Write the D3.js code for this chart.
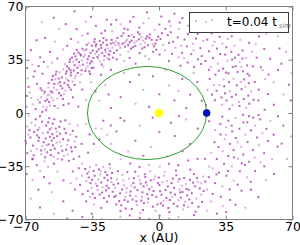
<!DOCTYPE html>
<html><head><meta charset="utf-8">
<script src="https://cdn.jsdelivr.net/npm/d3@7"></script>
<style>body{margin:0;background:#fff}svg{display:block}</style>
</head><body><svg id="c" width="300" height="245"></svg>
<script>
const tickValues=[-70,-35,0,35,70];
const xLabel="x (AU)";
const legendLabel="t=0.04 t";
const legendSub="sim";
const starPos=[[0,0]];
const planetPos=[[25,0]];
const orbitCenter=[-6.25,0];
const orbitAxes=[31.25,30.6];
const ringNW=[[-31.4,38.2],[-44.7,27.9],[-25.3,45.6],[-52.8,19.4],[-38.1,41.7],[-57.6,7.3],[-27.9,40.1],[-48.2,30.6],[-35.5,34.2],[-60.3,12.8],[-41.9,33.5],[-23.6,39.4],[-54.4,22.1],[-46.3,24.7],[-33.2,43.9],[-58.9,3.6],[-29.4,46.3],[-50.7,16.2],[-37.3,30.8],[-62.5,6.9],[-43.8,37.2],[-26.7,42.4],[-55.9,13.5],[-40.6,28.1],[-31.8,35.7],[-47.5,21.3],[-35.9,39.6],[-52.1,26.8],[-24.8,48.1],[-61.2,0.7],[-39.4,36.9],[-49.6,19.8],[-28.6,37.5],[-56.3,10.1],[-44.2,31.4],[-33.9,46.8],[-53.7,15.2],[-42.5,26.3],[-30.2,42.8],[-58.1,16.7],[-36.8,37.3],[-46.9,33.6],[-25.9,37.9],[-51.4,11.6],[-40.1,42.2],[-57.2,4.8],[-32.6,40.4],[-48.8,25.9],[-37.7,33.1],[-54.9,19.1],[-27.3,44.7],[-44.1,22.9],[-59.6,7.9],[-34.4,36.2],[-50.2,28.7],[-41.3,38.5],[-23.9,46.2],[-55.4,8.4],[-38.6,27.6],[-46.4,28.2],[-30.8,33.9],[-52.6,22.7],[-35.1,44.3],[-61.8,10.4],[-43.3,35.1],[-28.2,41.6],[-49.1,14.7],[-39.9,31.8],[-56.7,14.3],[-33.5,38.9],[-47.8,18.4],[-26.1,35.2],[-53.3,9.6],[-42.8,29.7],[-31.1,47.4],[-58.4,11.5],[-36.2,32.5],[-45.6,36.4],[-24.4,42.9],[-51.9,20.3],[-37.9,44.8],[-60.7,4.2],[-29.8,39.3],[-48.4,27.4],[-40.7,25.2],[-54.2,25.3],[-34.7,41.1],[-44.9,33.8],[-27.6,47.9],[-57.9,19.6],[-38.8,38.3],[-50.9,23.4],[-32.3,36.8],[-63.4,8.6],[-46.1,26.6],[-25.6,40.7],[-55.1,16.6],[-42.2,39.7],[-35.3,29.6],[-49.3,32.1],[-30.5,44.6],[-59.2,1.9],[-43.6,24.5],[-52.4,13.1],[-37.4,35.4],[-28.9,34.7],[-47.2,29.3],[-56.1,21.8],[-40.4,34.6],[-33.7,48.5],[-61.5,14.9],[-45.3,20.6],[-26.4,38.6],[-53.8,27.2],[-39.2,40.9],[-50.4,9.2],[-31.6,41.9],[-57.4,12.2],[-44.5,39.1],[-36.5,27.3],[-48.6,22.6],[-24.2,36.4],[-54.7,4.6],[-41.6,31.1],[-29.1,49.2],[-62.1,16.3],[-34.9,33.3],[-46.7,35.2],[-51.6,17.9],[-38.3,29.4],[-59.9,14.1],[-43.1,41.5],[-27.1,36.1],[-55.7,24.3],[-32.9,45.2],[-49.8,12.4],[-40.9,37.8],[-58.6,8.9],[-36.9,46.1],[-47.1,16.9],[-30.1,31.9],[-53.1,3.2],
[-44.3,66.8],[-55.2,62.6],[-61.4,59.7],[-33.1,57.3],[-28.3,54.1],[-24.6,53.7],[-64.2,47.8],[-59.7,49.3],[-54.6,46.9],[-46.2,48.7],[-37.4,52.2],[-50.3,41.8],[-57.1,40.2],[-62.3,36.6],[-66.4,31.7],[-53.3,35.8],[-48.1,44.2],[-42.4,46.3],[-30.2,52.4],[-25.1,58.2],[-38.4,60.1],[-67.2,41.3],[-69.1,29.6],[-58.3,30.4],[-43.2,55.1],[-27.4,61.3],[-52.3,55.2],[-65.8,23.9],[-68.4,17.2],[-66.9,9.8],[-64.7,2.6],[-69.6,4.1],[-67.8,13.4],[-63.9,19.2],[-65.2,27.4],[-68.9,22.8],[-61.1,25.8],[-63.1,30.9],[-66.2,5.7],[-69.3,11.2],[-60.4,33.6],[-56.2,33.1],[-35.7,63.2],[-48.9,58.4],[-40.3,50.9],
[-45.1,10.3],[-40.2,15.4],[-35.6,20.2],[-30.4,25.1],[-42.3,4.2],[-38.2,8.4],[-47.4,6.1],[-33.3,14.2],[-28.1,18.3],[-25.2,28.4],[-36.1,25.7],[-41.4,20.1],[-46.2,15.3],[-50.1,5.2],[-31.3,8.1],[-26.4,12.2],[-44.2,18.4],[-29.2,30.6],[-34.5,29.8]];
const ringN=[[-21.3,45.8],[-16.8,48.2],[-12.4,44.1],[-19.6,50.7],[-8.3,47.6],[-14.7,42.3],[-5.1,49.4],[-22.6,47.1],[-10.2,51.8],[-17.9,43.6],[-3.4,45.3],[-13.1,49.9],[-7.6,43.2],[-20.2,42.8],[-1.2,47.9],[-15.4,46.4],[-9.7,45.1],[-18.6,52.4],[-4.8,51.6],[-11.8,47.3],[-22.1,41.2],[-6.9,48.9],[-14.1,51.2],[-2.6,43.8],[-19.1,45.6],[-9.2,49.8],[-16.2,44.7],[-0.4,50.2],[-12.9,46.2],[-21.8,49.3],[-5.7,44.6],[-17.3,47.1],[-8.8,42.4],[-11.1,53.1],[-20.7,44.3],[-3.9,48.1],[-15.9,50.6],[-7.2,46.3],[-13.6,43.2],[-1.9,45.6],[-18.2,46.2],[-10.6,48.4],[-6.3,50.4],[-22.9,44.7],[-14.4,47.6],[0.8,48.6],[2.3,44.7],[4.6,51.2],[7.4,46.8],[3.1,41.3],[9.8,49.7],[6.2,53.1],[11.7,44.2],[1.6,52.4],[13.4,48.3],[8.6,42.9],[15.2,51.8],[5.3,46.1],[17.8,45.4],[12.1,39.6],[19.4,48.9],[10.4,55.2],[21.7,42.6],[14.6,43.8],[23.2,47.3],[16.9,38.7],[20.3,52.1],[18.1,41.2],[22.4,37.4],[6.8,38.9],
[-20.1,58.3],[-15.2,60.1],[-10.3,56.2],[-5.4,62.3],[0.2,58.1],[5.4,60.2],[15.3,57.4],[20.2,62.1],[-18.1,55.4],[-8.2,59.1],[3.3,55.3],[12.2,62.4],[18.3,54.6],[-13.4,63.2],[8.1,65.3],[-2.3,54.7],[22.3,56.4],[-22.4,61.2],[6.1,57.3],[-6.3,66.1],[1.2,63.4],[17.1,60.2],[-16.4,54.9],[10.9,59.4],
[-20.3,38.1],[-15.4,36.2],[-10.1,39.3],[-5.2,35.4],[0.3,38.4],[5.2,34.1],[10.3,36.6],[15.1,33.2],[20.4,35.2],[-18.2,34.1],[-12.3,32.4],[-3.1,40.2],[13.2,36.1],[18.4,30.3],[22.1,32.2],[-7.3,37.4],[-22.2,35.3],[11.3,31.1],[-16.1,40.4],[-1.4,41.6],
[-15.2,20.3],[-8.4,15.2],[-20.1,10.4],[-3.2,24.1],[5.3,18.2],[12.2,22.4],[8.1,8.3],[-12.3,6.1],[0.2,12.3],[16.4,12.1],[-18.3,26.2],[20.1,20.3],[-5.2,4.1],[3.4,28.2],[14.3,3.2],[-10.4,25.1],[10.2,14.3],[-25.1,3.3],[22.4,8.1],[18.2,26.3]];
const ringNE=[[25.3,48.2],[27.6,52.4],[29.1,46.7],[30.4,42.3],[31.8,50.1],[33.2,45.6],[34.7,38.4],[35.3,43.2],[36.1,48.7],[37.9,40.2],[38.4,35.1],[39.6,44.3],[40.2,30.7],[41.7,38.2],[42.3,33.6],[43.8,41.1],[44.1,27.4],[45.6,36.2],[46.2,31.3],[47.4,24.6],[48.7,40.3],[26.2,40.6],[28.3,36.1],[30.8,32.4],[32.1,38.7],[33.6,29.2],[35.9,34.4],[36.4,26.1],[38.7,30.3],[39.1,22.6],[40.8,18.2],[41.2,26.9],[42.9,20.4],[43.3,15.7],[44.6,22.1],[45.2,17.3],[46.8,11.4],[47.1,19.6],[48.3,14.2],[49.6,8.7],[50.2,20.4],[27.2,30.3],[29.6,25.2],[31.3,27.8],[33.9,22.1],[34.2,17.6],[36.7,20.3],[37.1,14.4],[38.2,10.6],[40.4,12.1],[41.9,7.3],[42.2,4.6],[44.4,9.2],[45.7,3.4],[47.3,6.1],[26.6,22.4],[28.9,18.3],[30.2,14.6],[32.7,10.2],[33.1,5.4],[35.4,8.2],[36.9,2.7],[38.6,5.1],[29.3,8.4],[27.8,12.1],[31.6,18.4],[35.1,26.6],[39.8,36.3],[43.2,30.2],[46.4,25.8],[52.3,15.4],[55.7,22.3],[53.4,30.1],[57.2,12.4],[60.1,20.3],[62.4,28.2],[58.3,35.6],[50.7,45.2],[55.2,42.1],[52.4,50.3],[48.2,55.4],[45.3,60.2],[40.7,55.1],[35.2,58.3],[30.4,62.1],[60.2,5.4],[65.3,12.2],[68.1,18.6],[64.2,32.4],[66.6,40.2],[55.4,2.1],[52.1,8.3],[62.3,50.4],[60.4,60.1],[25.2,60.3],[28.4,57.2],[32.3,55.1],[38.1,50.4],[42.6,48.2],[47.3,46.1],[51.2,36.4],[54.3,28.1],[57.4,25.3],[49.2,30.6],[37.3,56.1],[24.4,34.2],[26.2,28.4],[25.3,15.1],[24.6,5.2],[50.4,62.3],[56.3,52.2],[63.2,42.4],[69.1,8.3],[69.6,26.2],[34.6,12.9],[43.7,35.7],[28.1,44.3]];
const ringSE=[[33.2,-2.4],[36.4,-5.1],[40.1,-3.3],[44.3,-6.2],[47.2,-2.1],[50.4,-8.3],[53.1,-4.2],[56.3,-10.4],[35.2,-9.3],[38.4,-12.1],[42.1,-10.3],[45.3,-14.2],[48.2,-11.4],[51.4,-16.1],[54.2,-13.3],[57.1,-18.4],[32.3,-14.1],[34.4,-17.2],[37.2,-20.3],[40.3,-16.4],[43.1,-22.2],[46.4,-19.1],[49.2,-24.3],[52.3,-21.2],[55.1,-26.4],[31.2,-22.3],[33.4,-25.1],[36.3,-28.2],[39.1,-24.4],[41.4,-30.1],[44.2,-27.3],[47.3,-32.1],[50.1,-29.4],[30.3,-30.2],[34.1,-33.4],[38.2,-35.1],[42.4,-38.3],[45.1,-34.2],[28.2,-36.4],[31.4,-39.1],[35.3,-41.2],[39.2,-44.3],[26.1,-42.2],[29.4,-46.1],[33.2,-48.4],[37.1,-50.2],[41.3,-47.1],[25.2,-50.3],[28.1,-53.2],[32.4,-55.1],[27.3,-58.2],[30.1,-40.4],[36.2,-38.1],[26.4,-35.2],[24.3,-45.1],[38.1,-8.4],[41.2,-19.3],[46.3,-6.1],[52.2,-1.3],[58.4,-5.2],[60.1,-14.3],[62.2,-22.1],[59.3,-30.4],[55.2,-35.1],[50.4,-38.2],[46.1,-42.3],[43.3,-51.1],[48.2,-50.4],[56.1,-44.2],[60.3,-40.1],[65.2,-8.3],[67.1,-30.2],[64.3,-20.1],[62.4,-2.2],[69.2,-15.4],[40.1,-60.3],[35.2,-65.1],[45.3,-62.2],[30.4,-66.1],[52.1,-55.3],[25.3,-64.2],[44.1,-1.2],[49.4,-3.1],[35.1,-14.4],[32.2,-7.3],[29.1,-19.2],[27.4,-26.1],[39.3,-29.2],[43.4,-33.1],[53.2,-32.3],[48.1,-45.2],[37.3,-57.1],[33.4,-61.2],[24.2,-30.1],[26.3,-5.4],[29.4,-11.2]];
const ringS=[[-21.4,-46.3],[-8.7,-52.1],[4.2,-44.8],[15.6,-50.4],[-16.3,-58.2],[-2.1,-41.7],[11.4,-55.6],[-12.8,-48.9],[20.3,-45.1],[-5.6,-56.3],[7.9,-49.2],[-19.2,-40.6],[1.3,-53.8],[17.4,-59.1],[-10.1,-44.2],[-22.7,-54.4],[13.2,-42.6],[-3.8,-48.7],[9.6,-61.3],[-14.9,-51.6],[22.1,-53.7],[-7.4,-40.3],[5.7,-57.2],[-18.3,-47.4],[-0.6,-45.9],[18.8,-48.2],[-11.6,-60.4],[3.4,-50.6],[-20.4,-52.8],[14.1,-46.7],[-6.2,-53.4],[10.7,-43.4],[-15.8,-43.1],[0.9,-59.4],[-9.3,-57.6],[23.1,-41.8],[-2.9,-51.3],[6.6,-46.1],[-17.7,-55.1],[12.3,-51.9],[-13.4,-46.1],[19.6,-56.2],[-4.3,-44.3],[8.4,-53.6],[-22.1,-43.7],[16.2,-43.9],[-8.1,-48.2],[2.6,-41.2],[-19.8,-60.7],[21.4,-49.6],[-12.1,-54.7],[4.9,-62.4],[-6.8,-45.6],[13.7,-58.3],[-1.4,-55.1],[9.1,-40.9],[-16.9,-49.4],[17.2,-52.7],[-3.2,-61.6],[-10.8,-41.6],[6.1,-52.3],[-20.9,-57.9],[11.9,-47.8],[-14.2,-63.1],[0.2,-47.3],[15.3,-61.8],[-7.9,-59.2],[22.6,-58.4],[-18.7,-44.4],[3.9,-55.9],[-5.1,-50.1],[10.2,-57.4],[-13.9,-56.9],[18.3,-40.2],[-1.8,-64.3],[7.3,-43.1],[-11.3,-50.7],[-23.1,-49.2],[14.8,-54.2],[-8.4,-63.7],[1.8,-45.4],[20.7,-61.6],[-16.6,-38.9],[-4.6,-38.3],[8.9,-37.8],[-12.5,-38.6],[3.1,-38.9],[16.4,-37.2],[-21.6,-38.2],[12.7,-63.4],[-17.4,-62.8],[5.4,-65.1],[-9.8,-65.7],[19.2,-64.9],[-0.8,-60.1],[-6.4,-47.4],[11.1,-52.2],[-15.1,-54.3],[2.4,-57.9],[-19.4,-50.3],[7.7,-59.6],[-2.7,-43.7],[14.4,-49.9],[-9.6,-46.5],[21.9,-46.2],[-13.1,-42.8],[4.6,-48.3],[-5.9,-58.8],[17.8,-45.8],[-20.2,-64.4],[9.9,-45.1],[-11.9,-58.1],[0.6,-51.4],[-17.1,-52.3],[13.1,-60.6],[-3.6,-53.9],[6.9,-55.1],[-7.2,-42.1],[23.4,-51.2],[-14.6,-47.7],[19.9,-42.7],[-0.1,-42.4],[10.8,-50.3],[-22.4,-60.1],[2.1,-60.8],[-8.9,-55.2],[15.9,-56.8],[-18.1,-57.2],
[-20.3,-68.2],[-10.1,-69.1],[0.3,-67.4],[10.2,-68.3],[18.4,-67.1],[-5.2,-69.8],[5.3,-69.2],[-15.3,-67.3],
[-15.1,-33.2],[-5.3,-34.1],[5.2,-33.4],[15.3,-31.2],[-20.1,-30.4],[10.1,-34.3],[20.2,-30.1],[0.4,-35.2],[-10.2,-35.4],
[-18.2,-5.1],[-10.1,-8.3],[-3.3,-3.1],[6.2,-6.4],[14.1,-4.2],[-22.3,-12.1],[-12.4,-18.2],[-4.1,-22.3],[8.3,-15.1],[16.2,-20.4],[-25.1,-20.2],[0.2,-12.4],[12.3,-25.1],[-16.1,-25.3],[20.4,-10.2],[-8.2,-28.1],[4.3,-28.4],[-20.2,-3.3],[10.4,-2.1],[-30.1,-10.3]];
const ringSW=[[-58.3,-12.7],[-64.6,-4.2],[-51.2,-21.8],[-67.4,-16.1],[-55.7,-6.9],[-47.9,-27.3],[-61.8,-24.6],[-53.4,-15.2],[-69.2,-8.8],[-49.6,-10.4],[-59.7,-29.1],[-44.3,-18.7],[-66.1,-21.4],[-56.2,-18.1],[-62.7,-9.6],[-50.8,-30.6],[-57.6,-3.4],[-46.4,-14.3],[-63.9,-14.8],[-52.7,-26.4],[-68.3,-1.7],[-54.1,-10.2],[-60.4,-19.2],[-48.2,-20.9],[-65.7,-27.8],[-56.8,-24.3],[-42.6,-8.1],[-61.3,-5.7],[-51.9,-13.6],[-58.9,-21.1],[-45.7,-25.2],[-67.9,-11.3],[-55.3,-28.7],[-49.1,-4.8],[-63.2,-18.3],[-53.8,-19.6],[-59.1,-8.2],[-47.3,-31.4],[-66.8,-6.4],[-57.2,-15.6],[-43.9,-22.4],[-61.7,-27.2],[-52.3,-9.1],[-55.9,-13.9],[-64.1,-23.7],[-50.3,-17.2],[-58.6,-25.8],[-46.9,-7.3],[-69.7,-19.9],[-54.6,-23.4],[-60.9,-13.2],[-48.7,-24.1],[-65.4,-12.5],[-56.4,-9.8],[-41.8,-28.6],[-62.4,-2.1],[-53.1,-30.2],[-59.4,-16.8],[-45.2,-11.7],[-67.2,-24.9],[-51.6,-5.6],[-57.9,-20.6],[-49.8,-28.1],[-63.6,-11.1],[-55.1,-16.4],[-60.1,-31.8],[-47.6,-17.9],[-66.4,-30.4],[-53.6,-12.3],[-58.1,-6.1],[-43.4,-15.6],[-61.1,-21.8],[-50.7,-24.8],[-56.7,-27.6],[-64.9,-8.1],[-48.8,-13.2],[-54.9,-4.1],[-59.8,-23.9],[-46.1,-22.7],[-62.9,-16.2],[-52.1,-18.9],[-40.6,-20.3],[-57.3,-10.7],[-68.6,-14.2],[-44.8,-30.3],[-55.6,-21.2],[-38.3,-7.2],[-36.4,-14.1],[-34.2,-20.3],[-33.1,-10.2],[-31.3,-17.4],[-29.2,-5.1],[-27.1,-14.3],[-25.3,-8.2],[-37.2,-26.1],[-40.3,-33.2],
[-66.2,-30.1],[-64.1,-34.3],[-62.3,-38.2],[-69.1,-26.4],[-70,-18.3],[-58.2,-35.4],[-55.1,-33.3],[-60.3,-42.1],[-53.2,-38.4],[-57.4,-46.2],[-50.1,-44.3],[-66.3,-44.1],[-63.2,-50.4],[-69.4,-40.2],[-56.3,-52.1],
[-33.7,-41.2],[-27.4,-47.8],[-36.2,-35.6],[-29.8,-52.3],[-24.6,-39.4],[-38.1,-44.7],[-31.5,-37.1],[-26.2,-54.6],[-35.4,-49.3],[-28.6,-42.6],[-23.8,-47.1],[-32.9,-34.2],[-37.6,-39.8],[-30.3,-45.7],[-25.7,-36.3],[-34.8,-53.1],[-28.1,-38.9],[-33.2,-46.4],[-24.3,-51.8],[-36.9,-42.4],[-30.9,-40.3],[-26.9,-44.2],[-38.7,-36.8],[-32.1,-50.6],[-25.1,-42.9],[-35.9,-46.1],[-29.3,-35.4],[-34.3,-38.1],[-27.8,-50.9],[-31.8,-43.7],[-23.5,-55.2],[-37.3,-51.2],[-29.6,-48.8],[-25.9,-33.7],[-33.6,-55.8],[-30.6,-38.2],[-27.2,-40.8],[-35.1,-43.9],[-24.9,-45.3],[-32.4,-47.9],[-28.9,-55.9],[-36.6,-38.7],[-26.4,-49.4],[-31.1,-53.7],[-40.3,-41.2],[-42.1,-36.3],[-41.4,-47.2],[-43.3,-43.1],[-45.2,-38.4],[-44.1,-50.3],[-46.3,-46.1],[-40.1,-53.4],[-38.2,-58.1],[-34.1,-60.2],[-30.3,-62.4],[-27.2,-58.3],[-36.3,-55.1],
[-50.2,-58.1],[-45.3,-64.2],[-55.1,-66.3],[-62.4,-62.1],[-40.2,-68.4],[-30.1,-69.6],[-35.3,-66.2],[-48.1,-69.5],[-67.2,-56.3]];

const particles=[].concat(ringNW,ringN,ringNE,ringSE,ringS,ringSW);

const svg=d3.select("#c");
const font="DejaVu Sans, sans-serif";
const x=d3.scaleLinear().domain([-70,70]).range([25.5,292.5]);
const y=d3.scaleLinear().domain([-70,70]).range([219.5,6.5]);

svg.append("g").selectAll("rect").data(particles).join("rect")
  .attr("x",d=>x(d[0])-1).attr("y",d=>y(d[1])-1)
  .attr("width",2).attr("height",2)
  .attr("fill","#a52fae")
  .attr("opacity",(d,i)=>i%3===0?0.4:0.75);

svg.append("ellipse")
  .attr("cx",x(orbitCenter[0])).attr("cy",y(orbitCenter[1]))
  .attr("rx",x(orbitAxes[0])-x(0)).attr("ry",y(0)-y(orbitAxes[1]))
  .attr("fill","none").attr("stroke","#2f9f2f").attr("stroke-width",1);

svg.append("g").selectAll("circle").data(starPos).join("circle")
  .attr("cx",d=>x(d[0])).attr("cy",d=>y(d[1])).attr("r",4.2).attr("fill","#ffff00");
svg.append("g").selectAll("circle").data(planetPos).join("circle")
  .attr("cx",d=>x(d[0])).attr("cy",d=>y(d[1])).attr("r",3.4)
  .attr("fill","#0010d0").attr("stroke","#00006a").attr("stroke-width",0.8);

const fmt=d3.format("");
const ax=(g)=>{g.select(".domain").remove();g.selectAll("line").attr("stroke","#808080");
  g.selectAll("text").attr("fill","#000").style("font-family",font).style("font-size","12.5px");};
svg.append("g").attr("transform",`translate(0,${y(-70)})`)
  .call(d3.axisBottom(x).tickValues(tickValues).tickSize(-4).tickPadding(2.5).tickFormat(fmt)).call(ax);
svg.append("g").attr("transform",`translate(${x(-70)},0)`)
  .call(d3.axisLeft(y).tickValues(tickValues).tickSize(-4).tickPadding(2).tickFormat(fmt)).call(ax);
svg.append("g").attr("transform",`translate(0,${y(70)})`)
  .call(d3.axisTop(x).tickValues(tickValues).tickSize(-4).tickFormat("")).call(ax);
svg.append("g").attr("transform",`translate(${x(70)},0)`)
  .call(d3.axisRight(y).tickValues(tickValues).tickSize(-4).tickFormat("")).call(ax);
svg.append("rect").attr("x",x(-70)).attr("y",y(70)).attr("width",x(70)-x(-70)).attr("height",y(-70)-y(70))
  .attr("fill","none").attr("stroke","#808080").attr("stroke-width",1);

svg.append("text").attr("x",x(0)).attr("y",242).attr("text-anchor","middle")
  .style("font-family",font).style("font-size","12.5px").text(xLabel);

const lg=svg.append("g");
lg.append("rect").attr("x",189.5).attr("y",12.5).attr("width",99).attr("height",20)
  .attr("fill","#fff").attr("stroke","#3a3a3a").attr("stroke-width",1);
lg.selectAll("circle").data([[196,21],[206,22],[212,20]]).join("circle")
  .attr("cx",d=>d[0]).attr("cy",d=>d[1]).attr("r",0.8).attr("fill","#b060b8");
lg.append("text").attr("x",277).attr("y",26).attr("text-anchor","end")
  .style("font-family",font).style("font-size","12px").text(legendLabel);
lg.append("text").attr("x",278.5).attr("y",28)
  .style("font-family",font).style("font-size","7px").style("font-style","italic")
  .attr("fill","#777").text(legendSub);
</script></body></html>
